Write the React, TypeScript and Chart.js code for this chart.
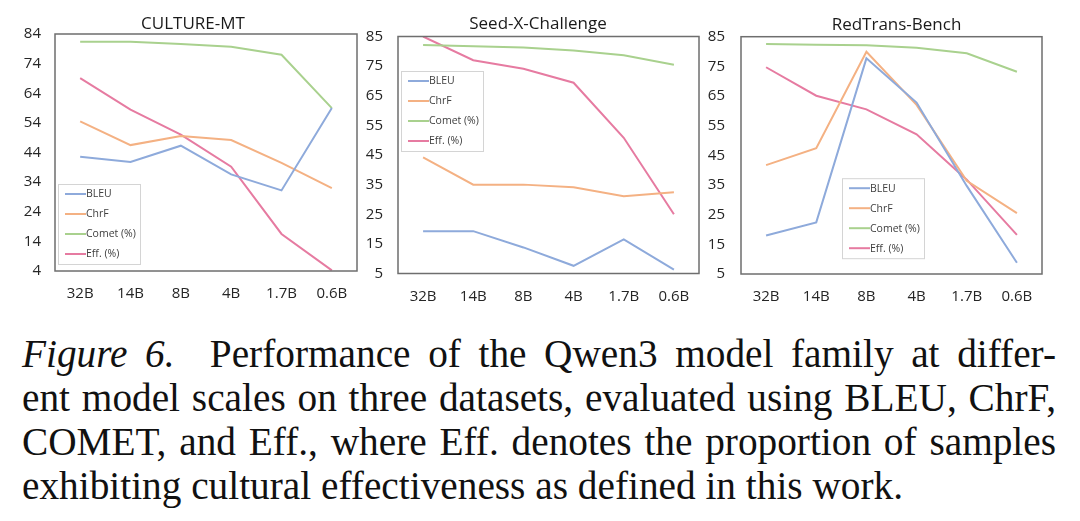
import React, { useEffect, useRef } from 'react';
import { Chart, registerables } from 'chart.js';

Chart.register(...registerables);

const sizes = ['32B', '14B', '8B', '4B', '1.7B', '0.6B'];
const seriesNames = ['BLEU', 'ChrF', 'Comet (%)', 'Eff. (%)'];
const seriesColors = ['#8eaadb', '#f4b183', '#a9d18e', '#e67ba1'];

const cultureBleu = [42.6, 40.8, 46.3, 36.6, 31.2, 59];
const cultureChrf = [54.5, 46.5, 49.6, 48.2, 40.5, 32];
const cultureComet = [81.4, 81.4, 80.6, 79.7, 77, 59];
const cultureEff = [69.1, 58.5, 50, 39.2, 16.5, 4.2];

const seedBleu = [19.3, 19.3, 13.8, 7.6, 16.5, 6.3];
const seedChrf = [44.2, 35, 35, 34.1, 31.1, 32.4];
const seedComet = [82.1, 81.7, 81.3, 80.3, 78.7, 75.5];
const seedEff = [85, 77, 74.1, 69.4, 50.8, 25];

const redBleu = [18, 22.4, 77.7, 62.8, 34.7, 8.8];
const redChrf = [41.7, 47.4, 79.9, 62, 36.4, 25.5];
const redComet = [82.5, 82.3, 82.1, 81.3, 79.4, 73.2];
const redEff = [74.7, 65.1, 60.5, 52.1, 36.8, 18.2];

const FONT = "'Open Sans', sans-serif";

// box round the plot area
const framePlugin = {
  id: 'frame',
  afterDraw(chart: any) {
    const { ctx, chartArea: a } = chart;
    ctx.save();
    ctx.strokeStyle = '#6e6e6e';
    ctx.lineWidth = 1.5;
    ctx.strokeRect(a.left, a.top, a.right - a.left, a.bottom - a.top);
    ctx.restore();
  },
};

// excel-like legend box inside the plot
const boxLegendPlugin = {
  id: 'boxLegend',
  afterDatasetsDraw(chart: any, _args: any, opts: any) {
    const { ctx, chartArea: a } = chart;
    const x = a.left + opts.x;
    const y = a.top + opts.y;
    ctx.save();
    ctx.fillStyle = '#ffffff';
    ctx.fillRect(x, y, 82, 80);
    ctx.strokeStyle = '#d4d4d4';
    ctx.lineWidth = 1;
    ctx.strokeRect(x + 0.5, y + 0.5, 82, 80);
    ctx.font = `10.5px ${FONT}`;
    ctx.textBaseline = 'middle';
    chart.data.datasets.forEach((ds: any, i: number) => {
      const cy = y + 10 + i * 20;
      ctx.strokeStyle = ds.borderColor;
      ctx.lineWidth = 2;
      ctx.beginPath();
      ctx.moveTo(x + 7, cy);
      ctx.lineTo(x + 28, cy);
      ctx.stroke();
      ctx.fillStyle = '#404040';
      ctx.fillText(ds.label, x + 28, cy + 0.5);
    });
    ctx.restore();
  },
};

const panelTitlePlugin = {
  id: 'panelTitle',
  afterDraw(chart: any, _args: any, opts: any) {
    const { ctx } = chart;
    ctx.save();
    ctx.font = `17px ${FONT}`;
    ctx.fillStyle = '#1a1a1a';
    ctx.textAlign = 'center';
    ctx.textBaseline = 'middle';
    ctx.fillText(opts.text, opts.x, opts.y);
    ctx.restore();
  },
};

type PanelProps = {
  title: string;
  titleX: number;
  titleY: number;
  left: number;
  width: number;
  yMin: number;
  yMax: number;
  axisWidth: number;
  tickPad: number;
  padRight: number;
  padTop: number;
  axisHeight: number;
  legendX: number;
  legendY: number;
  series: number[][];
};

const Panel: React.FC<PanelProps> = (p) => {
  const ref = useRef<HTMLCanvasElement>(null);

  useEffect(() => {
    if (!ref.current) return;
    const chart = new Chart(ref.current, {
      type: 'line',
      data: {
        labels: sizes,
        datasets: p.series.map((vals, i) => ({
          label: seriesNames[i],
          data: vals,
          borderColor: seriesColors[i],
          backgroundColor: seriesColors[i],
          borderWidth: 2,
          pointRadius: 0,
          tension: 0,
        })),
      },
      options: {
        animation: false,
        responsive: false,
        layout: { padding: { left: 0, right: p.padRight, top: p.padTop, bottom: 0 } },
        plugins: {
          legend: { display: false },
          tooltip: { enabled: false },
          boxLegend: { x: p.legendX, y: p.legendY },
          panelTitle: { text: p.title, x: p.titleX, y: p.titleY },
        } as any,
        scales: {
          x: {
            type: 'category',
            offset: true,
            grid: { display: false, drawTicks: false },
            border: { display: false },
            ticks: {
              color: '#262626',
              font: { family: FONT, size: 15 },
              padding: 14,
              maxRotation: 0,
              autoSkip: false,
            },
            afterFit: (s: any) => {
              s.height = p.axisHeight;
            },
          },
          y: {
            min: p.yMin,
            max: p.yMax,
            grid: { display: false, drawTicks: false },
            border: { display: false },
            ticks: {
              stepSize: 10,
              color: '#262626',
              font: { family: FONT, size: 15 },
              padding: p.tickPad,
            },
            afterFit: (s: any) => {
              s.width = p.axisWidth;
            },
          },
        },
      },
      plugins: [framePlugin, boxLegendPlugin, panelTitlePlugin],
    });
    return () => chart.destroy();
  }, []);

  return (
    <canvas
      ref={ref}
      width={p.width}
      height={310}
      style={{ position: 'absolute', left: p.left, top: 0, width: p.width, height: 310 }}
    />
  );
};

const lineStyle: React.CSSProperties = { textAlign: 'justify', textAlignLast: 'justify' };

export default function App() {
  return (
    <div
      style={{
        position: 'absolute',
        left: 0,
        top: 0,
        width: 1080,
        height: 521,
        background: '#ffffff',
        overflow: 'hidden',
      }}
    >
      <Panel
        title="CULTURE-MT"
        titleX={193}
        titleY={24}
        left={0}
        width={370}
        yMin={4}
        yMax={84}
        axisWidth={55}
        tickPad={14}
        padRight={13}
        padTop={34}
        axisHeight={39}
        legendX={3}
        legendY={150}
        series={[cultureBleu, cultureChrf, cultureComet, cultureEff]}
      />
      <Panel
        title="Seed-X-Challenge"
        titleX={176}
        titleY={24}
        left={362}
        width={350}
        yMin={5}
        yMax={85}
        axisWidth={36}
        tickPad={15}
        padRight={13}
        padTop={36.5}
        axisHeight={36.5}
        legendX={3}
        legendY={34.5}
        series={[seedBleu, seedChrf, seedComet, seedEff]}
      />
      <Panel
        title="RedTrans-Bench"
        titleX={191.5}
        titleY={25}
        left={705}
        width={375}
        yMin={5}
        yMax={85}
        axisWidth={36}
        tickPad={16}
        padRight={38}
        padTop={36.7}
        axisHeight={36}
        legendX={101}
        legendY={141.5}
        series={[redBleu, redChrf, redComet, redEff]}
      />
      <div
        style={{
          position: 'absolute',
          left: 22,
          top: 332,
          width: 1034,
          fontFamily: "'Liberation Serif', serif",
          fontSize: 39.3,
          lineHeight: '44px',
          color: '#111111',
        }}
      >
        <div style={lineStyle}>
          <i>Figure 6.</i>&nbsp; Performance of the Qwen3 model family at differ-
        </div>
        <div style={lineStyle}>ent model scales on three datasets, evaluated using BLEU, ChrF,</div>
        <div style={lineStyle}>COMET, and Eff., where Eff. denotes the proportion of samples</div>
        <div>exhibiting cultural effectiveness as defined in this work.</div>
      </div>
    </div>
  );
}
